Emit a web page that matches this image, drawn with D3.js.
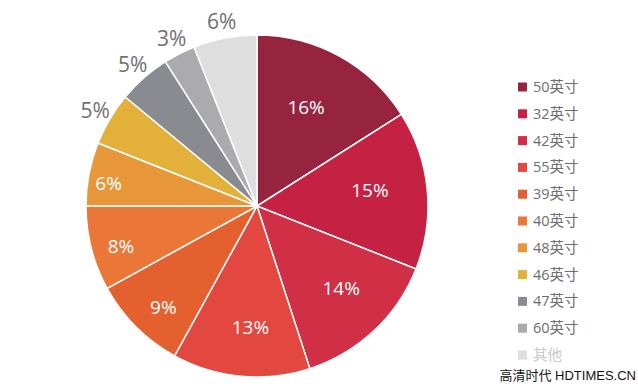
<!DOCTYPE html>
<html>
<head>
<meta charset="utf-8">
<script src="https://cdn.jsdelivr.net/npm/d3@7"></script>
<style>
  body { margin: 0; background: #fff; }
  svg text { font-family: "Open Sans", "Noto Sans", "Noto Sans CJK SC", sans-serif; }
</style>
</head>
<body>
<svg id="chart" width="638" height="384"></svg>
<script>
// data
const sizes = ['50英寸', '32英寸', '42英寸', '55英寸', '39英寸', '40英寸', '48英寸', '46英寸', '47英寸', '60英寸', '其他'];
const shares = [16, 15, 14, 13, 9, 8, 6, 5, 5, 3, 6];
const colors = ['#97243f', '#c52243', '#d02f45', '#e2483f', '#e5602f', '#ea7638',
                '#e8973a', '#e3b13a', '#898b90', '#ababad', '#dedede'];
// slices labelled outside the pie
const outside = ['46英寸', '47英寸', '60英寸', '其他'];

const svg = d3.select('#chart');
const cx = 257, cy = 206, R = 171;

const pie = d3.pie().sort(null).value(d => d.v);
const arcs = pie(sizes.map((s, i) => ({ name: s, v: shares[i], c: colors[i] })));
const arc = d3.arc().innerRadius(0).outerRadius(R);

// smaller slices get their label pushed further out (like excel's best fit)
const labelR = d3.scaleLinear().domain([6, 16]).range([150, 110]);
const outR = R + 17;

function labelPos(d) {
  const mid = (d.startAngle + d.endAngle) / 2;
  const isOut = outside.includes(d.data.name);
  const r = isOut ? outR : labelR(d.data.v);
  const a = isOut ? mid : mid - 0.04;
  return [Math.sin(a) * r, -Math.cos(a) * r];
}

const g = svg.append('g').attr('transform', `translate(${cx},${cy})`);

g.selectAll('path')
  .data(arcs)
  .enter()
  .append('path')
  .attr('d', arc)
  .attr('fill', d => d.data.c)
  .attr('stroke', '#fff')
  .attr('stroke-width', 1.5);

g.selectAll('text.pct')
  .data(arcs)
  .enter()
  .append('text')
  .attr('class', 'pct')
  .attr('transform', d => `translate(${labelPos(d)})`)
  .attr('text-anchor', 'middle')
  .attr('dy', '0.35em')
  .style('font-size', d => outside.includes(d.data.name) ? '21px' : '19px')
  .style('fill', d => outside.includes(d.data.name) ? '#707070' : '#fff')
  .text(d => d.data.v + '%');

// legend
const legendY = d3.scalePoint().domain(sizes).range([87, 355]);
const legend = svg.append('g');
const items = legend.selectAll('g')
  .data(sizes)
  .enter()
  .append('g')
  .attr('transform', d => `translate(518,${legendY(d)})`);

items.append('rect')
  .attr('x', 0)
  .attr('y', -4.5)
  .attr('width', 9)
  .attr('height', 9)
  .attr('fill', (d, i) => colors[i]);

items.append('text')
  .attr('x', 15)
  .attr('dy', '0.35em')
  .style('font-size', '14.5px')
  .style('fill', d => d === '其他' ? '#c8c8c8' : '#6e6e6e')
  .text(d => d);

// watermark
svg.append('text')
  .attr('x', 636)
  .attr('y', 380)
  .attr('text-anchor', 'end')
  .style('font-family', '"Liberation Sans", "Noto Sans CJK SC", sans-serif')
  .style('font-size', '13px')
  .style('fill', '#111')
  .text('高清时代 HDTIMES.CN');
</script>
</body>
</html>
